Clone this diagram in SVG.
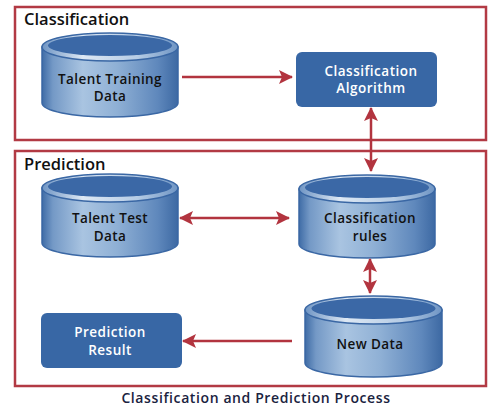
<svg xmlns="http://www.w3.org/2000/svg" width="500" height="412" viewBox="0 0 500 412">
<defs>
<linearGradient id="body" x1="0" y1="0" x2="1" y2="0">
<stop offset="0" stop-color="#3f6ca6"/>
<stop offset="0.08" stop-color="#7499c6"/>
<stop offset="0.3" stop-color="#a9c4e1"/>
<stop offset="0.55" stop-color="#8fb0d5"/>
<stop offset="0.85" stop-color="#5f88bc"/>
<stop offset="1" stop-color="#3d69a3"/>
</linearGradient>
<linearGradient id="rim" x1="0" y1="0" x2="1" y2="0">
<stop offset="0" stop-color="#6f95c4"/>
<stop offset="0.3" stop-color="#dde8f4"/>
<stop offset="0.7" stop-color="#b6cce5"/>
<stop offset="1" stop-color="#6f95c4"/>
</linearGradient>
<marker id="ah" viewBox="0 0 14 14" refX="13" refY="7" markerWidth="14" markerHeight="14" markerUnits="userSpaceOnUse" orient="auto-start-reverse">
<path d="M0,0 L14,7 L0,14 L3,7 Z" fill="#b2343f"/>
</marker>
</defs>
<style>
.frame{fill:none;stroke:#b23a44;stroke-width:2.5}
.title{font-family:"Open Sans","DejaVu Sans",sans-serif;font-size:16.5px;font-weight:600;fill:#111}
.cyl-body{fill:url(#body);stroke:#3a67a4;stroke-width:1.5}
.cyl-top{fill:url(#rim);stroke:#3a67a4;stroke-width:1.5}
.cyl-in{fill:#3b68a6}
.cyl-t{font-family:"Open Sans","DejaVu Sans",sans-serif;font-size:13.5px;font-weight:600;fill:#111;text-anchor:middle;letter-spacing:0.4px}
.box{fill:#3867a5}
.box-t{font-family:"Open Sans","DejaVu Sans",sans-serif;font-size:13.5px;font-weight:600;fill:#fff;text-anchor:middle;letter-spacing:0.5px}
.conn{stroke:#b2343f;stroke-width:2.5;fill:none}
.cap{font-family:"Open Sans","DejaVu Sans",sans-serif;font-size:14px;font-weight:600;fill:#1a2340;text-anchor:middle;letter-spacing:0.6px}
</style>
<rect width="500" height="412" fill="#fff"/>
<g id="classification-frame">
<rect class="frame" x="15" y="7" width="471" height="133"/>
<text class="title" x="24" y="25">Classification</text>
</g>
<g id="prediction-frame">
<rect class="frame" x="15" y="151" width="471" height="235"/>
<text class="title" x="24" y="170">Prediction</text>
</g>
<g id="talent-training-data">
<path class="cyl-body" d="M42,47 L42,103 A68,14 0 0 0 178,103 L178,47 Z"/>
<ellipse class="cyl-top" cx="110" cy="47" rx="68" ry="14"/>
<ellipse class="cyl-in" cx="110" cy="45.5" rx="62" ry="10.5"/>
<text class="cyl-t" x="110" y="84">Talent Training</text>
<text class="cyl-t" x="110" y="101">Data</text>
</g>
<g id="classification-algorithm">
<rect class="box" x="296" y="52" width="141" height="55" rx="6"/>
<text class="box-t" x="371" y="76">Classification</text>
<text class="box-t" x="371" y="93">Algorithm</text>
</g>
<g id="talent-test-data">
<path class="cyl-body" d="M42,188 L42,243 A68,14 0 0 0 178,243 L178,188 Z"/>
<ellipse class="cyl-top" cx="110" cy="188" rx="68" ry="14"/>
<ellipse class="cyl-in" cx="110" cy="186.5" rx="62" ry="10.5"/>
<text class="cyl-t" x="110" y="223">Talent Test</text>
<text class="cyl-t" x="110" y="241">Data</text>
</g>
<g id="classification-rules">
<path class="cyl-body" d="M299,189 L299,244 A68,14 0 0 0 435,244 L435,189 Z"/>
<ellipse class="cyl-top" cx="367" cy="189" rx="68" ry="14"/>
<ellipse class="cyl-in" cx="367" cy="187.5" rx="62" ry="10.5"/>
<text class="cyl-t" x="370" y="223">Classification</text>
<text class="cyl-t" x="370" y="241">rules</text>
</g>
<g id="new-data">
<path class="cyl-body" d="M305,310 L305,363 A68.5,14 0 0 0 442,363 L442,310 Z"/>
<ellipse class="cyl-top" cx="373.5" cy="310" rx="68.5" ry="14"/>
<ellipse class="cyl-in" cx="373.5" cy="308.5" rx="62" ry="10.5"/>
<text class="cyl-t" x="370" y="349">New Data</text>
</g>
<g id="prediction-result">
<rect class="box" x="41" y="313" width="141" height="55" rx="6"/>
<text class="box-t" x="110" y="337">Prediction</text>
<text class="box-t" x="110" y="355">Result</text>
</g>
<g id="connectors">
<line class="conn" x1="182" y1="77" x2="292" y2="77" marker-end="url(#ah)"/>
<line class="conn" x1="371" y1="108" x2="371" y2="171" marker-start="url(#ah)" marker-end="url(#ah)"/>
<line class="conn" x1="180" y1="218" x2="289" y2="218" marker-start="url(#ah)" marker-end="url(#ah)"/>
<line class="conn" x1="370" y1="259" x2="370" y2="293" marker-start="url(#ah)" marker-end="url(#ah)"/>
<line class="conn" x1="292" y1="341" x2="183" y2="341" marker-end="url(#ah)"/>
</g>
<text class="cap" x="256" y="403">Classification and Prediction Process</text>
</svg>
